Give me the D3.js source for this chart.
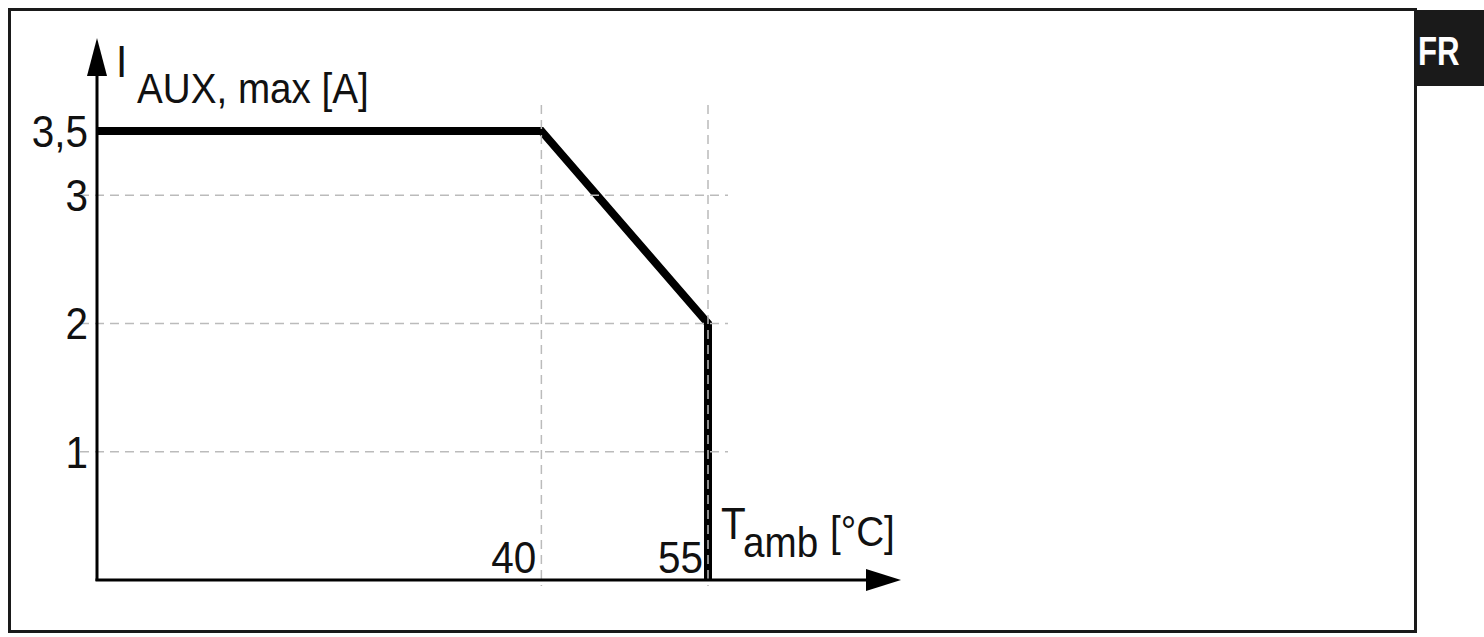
<!DOCTYPE html>
<html>
<head>
<meta charset="utf-8">
<script src="https://cdn.jsdelivr.net/npm/d3@7"></script>
<style>
  body { margin: 0; background: #fff; }
  text { font-family: "Liberation Sans", Arial, sans-serif; fill: #111; }
</style>
</head>
<body>
<svg id="chart"></svg>
<script>
// derating curve: ambient temperature [°C] vs max aux current [A]
var tempValues = [0, 40, 55, 55];
var currentValues = [3.5, 3.5, 2, 0];

var yTickValues = [1, 2, 3, 3.5];
var yTickLabels = ["1", "2", "3", "3,5"];
var xTickValues = [40, 55];
var xTickLabels = ["40", "55"];
var gridYValues = [1, 2, 3];
var gridXValues = [40, 55];

var width = 1484;
var height = 637;

/**
 * Puts a slightly condensed text at x, y.
 */
function condensedText(svg, x, y, str, size, anchor, sx) {
  return svg.append("text")
    .attr("transform", "translate(" + x + "," + y + ") scale(" + (sx || 0.92) + ",1)")
    .attr("text-anchor", anchor || "start")
    .style("font-size", size + "px")
    .text(str);
}

function drawChart() {
  var svg = d3.select("#chart")
    .attr("width", width)
    .attr("height", height);

  var xScale = d3.scaleLinear().domain([0, 55]).range([97, 708]);
  var yScale = d3.scaleLinear().domain([0, 3.5]).range([580, 131]);

  // outer frame
  svg.append("rect")
    .attr("x", 9.5).attr("y", 9.5)
    .attr("width", 1406).attr("height", 622)
    .attr("fill", "none")
    .attr("stroke", "#1a1a1a")
    .attr("stroke-width", 3);

  // FR tab
  svg.append("rect")
    .attr("x", 1417).attr("y", 10)
    .attr("width", 67).attr("height", 76)
    .attr("fill", "#1a1a1a");
  condensedText(svg, 1418, 65, "FR", 40, "start", 0.78)
    .style("font-weight", "bold")
    .style("fill", "#fff");

  // the curve
  var line = d3.line()
    .x(function(d) { return xScale(d.t); })
    .y(function(d) { return yScale(d.i); });
  var points = tempValues.map(function(t, k) {
    return { t: t, i: currentValues[k] };
  });
  svg.append("path")
    .datum(points)
    .attr("d", line)
    .attr("fill", "none")
    .attr("stroke", "#000")
    .attr("stroke-width", 8)
    .attr("stroke-linejoin", "miter");

  // dashed grid on top
  svg.selectAll(".grid-h")
    .data(gridYValues)
    .enter().append("line")
    .attr("x1", 80).attr("x2", 728)
    .attr("y1", function(d) { return yScale(d); })
    .attr("y2", function(d) { return yScale(d); })
    .attr("stroke", "#bbb")
    .attr("stroke-width", 1.5)
    .attr("stroke-dasharray", "9,6");

  svg.selectAll(".grid-v")
    .data(gridXValues)
    .enter().append("line")
    .attr("x1", function(d) { return xScale(d); })
    .attr("x2", function(d) { return xScale(d); })
    .attr("y1", 105).attr("y2", 586)
    .attr("stroke", "#bbb")
    .attr("stroke-width", 1.5)
    .attr("stroke-dasharray", "9,6");

  // axes
  svg.append("line")
    .attr("x1", xScale(0)).attr("x2", xScale(0))
    .attr("y1", 581).attr("y2", 70)
    .attr("stroke", "#000").attr("stroke-width", 3);
  svg.append("path")
    .attr("d", "M" + (xScale(0) - 10) + ",76 L" + xScale(0) + ",38 L" + (xScale(0) + 10) + ",76 Z")
    .attr("fill", "#000");

  svg.append("line")
    .attr("x1", xScale(0) - 1.5).attr("x2", 875)
    .attr("y1", yScale(0)).attr("y2", yScale(0))
    .attr("stroke", "#000").attr("stroke-width", 3);
  svg.append("path")
    .attr("d", "M866," + (yScale(0) - 11) + " L901," + yScale(0) + " L866," + (yScale(0) + 11) + " Z")
    .attr("fill", "#000");

  // tick labels
  yTickValues.forEach(function(v, k) {
    condensedText(svg, 88, yScale(v) + 16, yTickLabels[k], 44, "end");
  });
  xTickValues.forEach(function(v, k) {
    condensedText(svg, xScale(v) - 5, 573, xTickLabels[k], 44, "end");
  });

  // axis titles
  condensedText(svg, 116, 77, "I", 44);
  condensedText(svg, 137, 103, "AUX, max [A]", 42);
  condensedText(svg, 721, 539, "T", 44);
  condensedText(svg, 743, 557, "amb", 42);
  condensedText(svg, 830, 546, "[°C]", 42);
}

drawChart();
</script>
</body>
</html>
